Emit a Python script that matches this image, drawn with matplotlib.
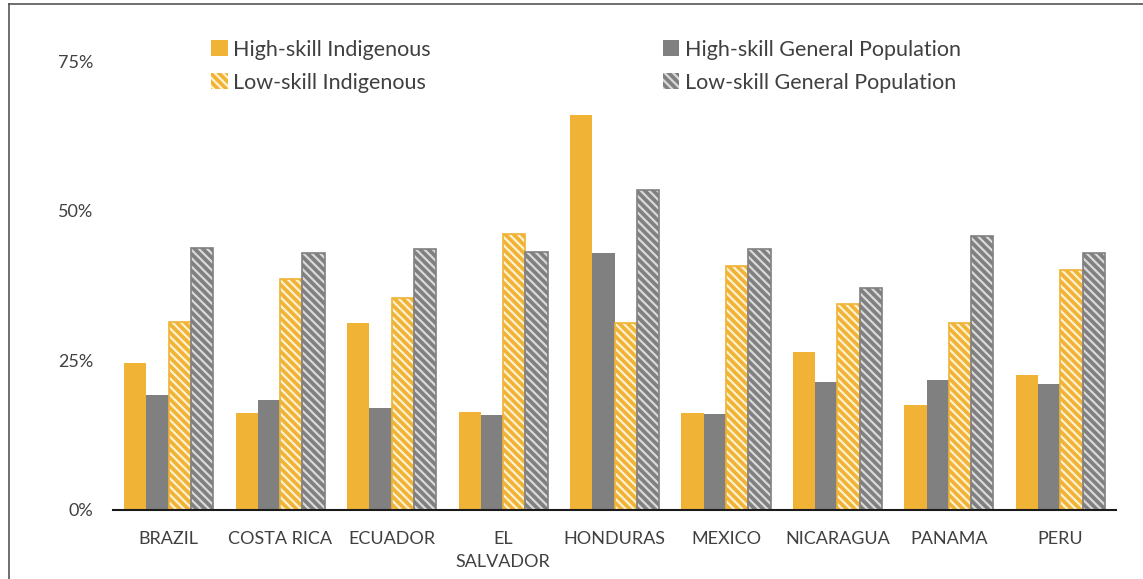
import numpy as np
import matplotlib.pyplot as plt
from matplotlib.lines import Line2D

plt.rcParams['font.family'] = ['Lato', 'DejaVu Sans']
plt.rcParams['hatch.linewidth'] = 1.6

# Data (shares)
countries = ['BRAZIL', 'COSTA RICA', 'ECUADOR', 'EL\nSALVADOR', 'HONDURAS',
             'MEXICO', 'NICARAGUA', 'PANAMA', 'PERU']
high_indig = [24.6, 16.2, 31.2, 16.4, 66.0, 16.2, 26.4, 17.5, 22.5]
high_gen = [19.2, 18.4, 17.0, 15.9, 42.9, 16.0, 21.4, 21.7, 21.0]
low_indig = [31.4, 38.6, 35.4, 46.1, 31.2, 40.8, 34.4, 31.2, 40.1]
low_gen = [43.8, 42.9, 43.6, 43.1, 53.4, 43.6, 37.1, 45.8, 42.9]
yticks = [0, 25, 50, 75]

gold = '#F0B335'
gray = '#808080'
stripes = '\\' * 4

series = [
    ('High-skill Indigenous', high_indig, gold, None, None),
    ('High-skill General Population', high_gen, gray, None, None),
    ('Low-skill Indigenous', low_indig, gold, stripes, '#FFF1D2'),
    ('Low-skill General Population', low_gen, gray, stripes, '#D9D9D9'),
]

fig = plt.figure(figsize=(11.43, 5.79), dpi=100)
ax = fig.add_axes([0.0989, 0.1192, 0.8775, 0.7754])

x = np.arange(len(countries))
w = 0.2
handles = []
for i, (name, vals, col, hatch, hcol) in enumerate(series):
    pos = x + (i - 1.5) * w
    if hatch:
        ax.bar(pos, vals, w, color=col, edgecolor=hcol, hatch=hatch, linewidth=0)
        ax.bar(pos, vals, w, fill=False, edgecolor=col, linewidth=1.2)
        b = ax.bar([0], [0], 0, color=col, edgecolor=hcol, hatch=hatch, linewidth=0)
    else:
        b = ax.bar(pos, vals, w, color=col, linewidth=0)
    handles.append((b, name))

ax.set_xlim(-0.5, len(countries) - 0.5)
ax.set_ylim(0, 75)
ax.set_yticks(yticks)
ax.set_yticklabels([f'{t}%' for t in yticks])
ax.set_xticks(x)
ax.set_xticklabels(countries, linespacing=1.55)
ax.tick_params(axis='both', length=0, labelsize=13, colors='#404040')
ax.tick_params(axis='y', pad=14)
ax.tick_params(axis='x', pad=15)
for s in ['top', 'right', 'left']:
    ax.spines[s].set_visible(False)
ax.spines['bottom'].set_color('#1a1a1a')
ax.spines['bottom'].set_linewidth(1.5)

# column-wise fill: indigenous in the first column, general population in the second
order = [0, 2, 1, 3]
fig.legend([handles[i][0] for i in order], [handles[i][1] for i in order],
           ncol=2, loc='upper left', bbox_to_anchor=(0.168, 0.965),
           frameon=False, fontsize=15.5, handlelength=0.75, handleheight=0.75,
           handletextpad=0.25, columnspacing=10.8, labelspacing=0.6,
           labelcolor='#404040')

# outer frame of the original chart (top and left edges)
fig.add_artist(Line2D([9 / 1143, 9 / 1143], [0, 1 - 4 / 579], color='#555555',
                      linewidth=1.2, transform=fig.transFigure))
fig.add_artist(Line2D([9 / 1143, 1], [1 - 4 / 579, 1 - 4 / 579], color='#555555',
                      linewidth=1.2, transform=fig.transFigure))

fig.savefig('out.png', dpi=100)
